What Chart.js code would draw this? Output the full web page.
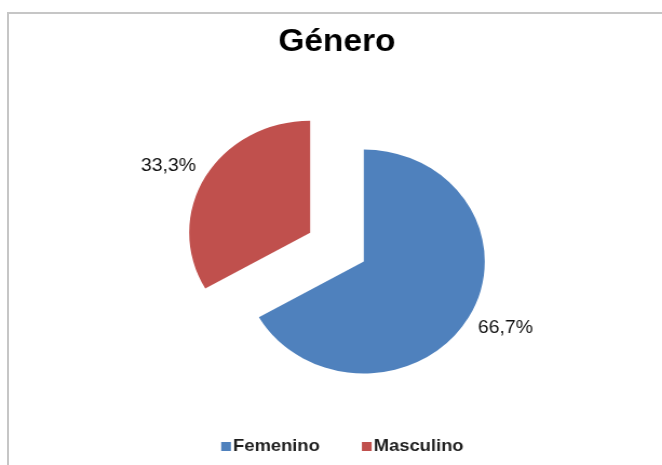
<!DOCTYPE html>
<html lang="es">
<head>
<meta charset="utf-8">
<title>Género</title>
<script src="https://cdn.jsdelivr.net/npm/chart.js@4.4.1/dist/chart.umd.min.js"></script>
<style>
  html, body { margin: 0; padding: 0; background: #ffffff; overflow: hidden; }
  body { width: 662px; height: 465px; position: relative; }
  #frame {
    position: absolute; left: 7px; top: 12px; width: 700px; height: 500px;
    border-left: 2px solid #c6c6c6; border-top: 2px solid #c6c6c6;
    box-sizing: border-box;
  }
  #wrap {
    position: absolute; left: 0; top: 0; width: 613px; height: 465px;
    transform: scaleX(1.08); transform-origin: 0 0;
  }
</style>
</head>
<body>
<div id="frame"></div>
<div id="wrap"><canvas id="c" width="613" height="465"></canvas></div>
<script>
// Chart data
const chartTitle = 'Género';
const categories = ['Femenino', 'Masculino'];
const shares = [66.7, 33.3];
const sliceColors = ['#4F81BD', '#C0504D'];

const FONT = '"Liberation Sans", Arial, sans-serif';
const EXPLODE = 28.7;     // distance each slice is pulled out from the centre
const LABEL_GAP = 14;     // gap between slice edge and its percentage label

const fmtPct = v => String(v).replace('.', ',') + '%';

// Pull every slice outwards along its own bisector
const explodePlugin = {
  id: 'explode',
  afterDatasetsUpdate(chart) {
    chart.getDatasetMeta(0).data.forEach(arc => {
      const mid = (arc.startAngle + arc.endAngle) / 2;
      arc.x += Math.cos(mid) * EXPLODE;
      arc.y += Math.sin(mid) * EXPLODE;
    });
  }
};

// Percentage labels just outside each slice
const outsideLabels = {
  id: 'outsideLabels',
  afterDatasetsDraw(chart) {
    const ctx = chart.ctx;
    const values = chart.data.datasets[0].data;
    ctx.save();
    ctx.font = '18px ' + FONT;
    ctx.fillStyle = '#111111';
    ctx.textAlign = 'center';
    ctx.textBaseline = 'middle';
    chart.getDatasetMeta(0).data.forEach((arc, i) => {
      const mid = (arc.startAngle + arc.endAngle) / 2;
      const dx = Math.cos(mid), dy = Math.sin(mid);
      const text = fmtPct(values[i]);
      const w = ctx.measureText(text).width;
      const h = 14;
      const r = arc.outerRadius + LABEL_GAP;
      const x = arc.x + dx * r + dx * w / 2;
      const y = arc.y + dy * r + dy * h / 2;
      ctx.fillText(text, x, y);
    });
    ctx.restore();
  }
};

// Legend row at the bottom: small square swatch followed by bold label
const bottomLegend = {
  id: 'bottomLegend',
  afterDraw(chart) {
    const ctx = chart.ctx;
    const box = 9, gap = 2, itemGap = 39, y = 446.5;
    ctx.save();
    ctx.font = 'bold 17px ' + FONT;
    ctx.textBaseline = 'middle';
    ctx.textAlign = 'left';
    const widths = categories.map(c => box + gap + ctx.measureText(c).width);
    const total = widths.reduce((a, b) => a + b, 0) + itemGap * (categories.length - 1);
    const cx = (chart.chartArea.left + chart.chartArea.right) / 2 + 5;
    let x = cx - total / 2;
    categories.forEach((c, i) => {
      ctx.fillStyle = sliceColors[i];
      ctx.fillRect(x, y - box / 2, box, box);
      ctx.fillStyle = '#1f1f1f';
      ctx.fillText(c, x + box + gap, y);
      x += widths[i] + itemGap;
    });
    ctx.restore();
  }
};

new Chart(document.getElementById('c'), {
  type: 'pie',
  data: {
    labels: categories,
    datasets: [{
      data: shares,
      backgroundColor: sliceColors,
      borderWidth: 0
    }]
  },
  options: {
    responsive: false,
    animation: false,
    events: [],
    radius: 112,
    layout: { padding: { left: 11, right: 0, top: 0, bottom: 41.5 } },
    plugins: {
      legend: { display: false },
      tooltip: { enabled: false },
      title: {
        display: true,
        text: chartTitle,
        color: '#000000',
        font: { family: FONT, size: 31, weight: 'bold', lineHeight: 1.2 },
        padding: { top: 24, bottom: 9.5 }
      }
    }
  },
  plugins: [explodePlugin, outsideLabels, bottomLegend]
});
</script>
</body>
</html>
